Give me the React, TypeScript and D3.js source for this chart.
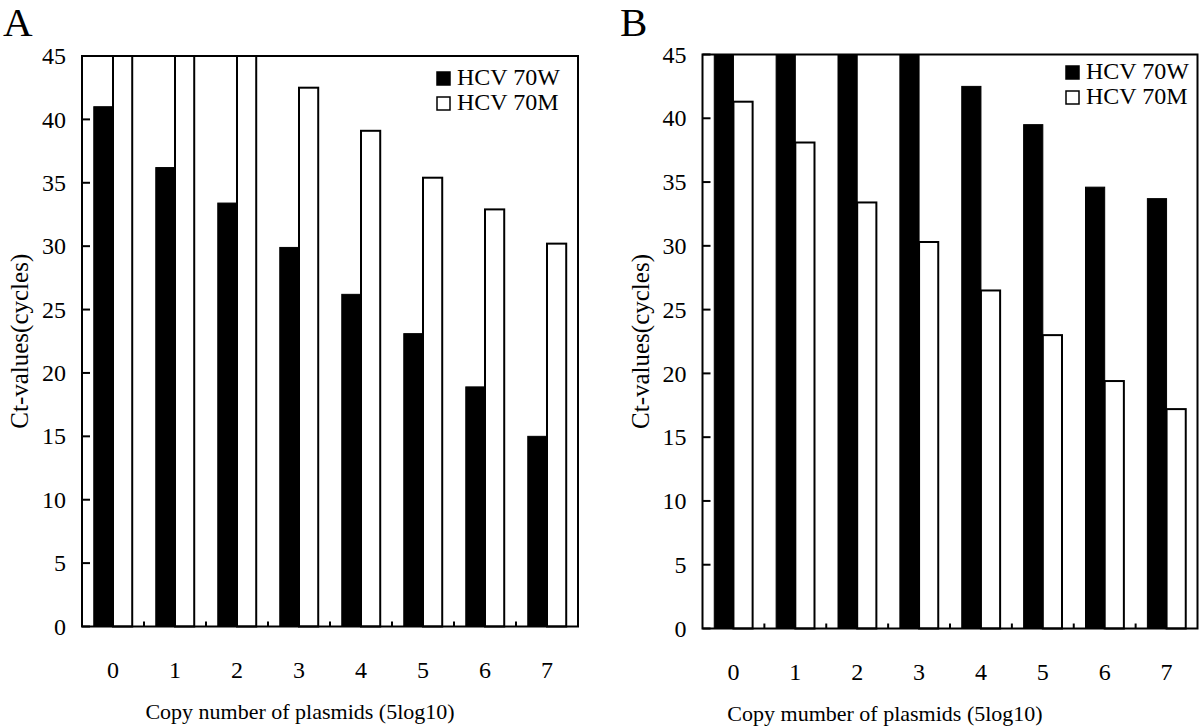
import React from "react";
import * as d3 from "d3";

const categories = ["0", "1", "2", "3", "4", "5", "6", "7"];
const yTicks = [0, 5, 10, 15, 20, 25, 30, 35, 40, 45];
const seriesNames = ["HCV 70W", "HCV 70M"];

const panelA_70W = [41.0, 36.2, 33.4, 29.9, 26.2, 23.1, 18.9, 15.0];
const panelA_70M = [45, 45, 45, 42.5, 39.1, 35.4, 32.9, 30.2];
const panelB_70W = [45, 45, 45, 45, 42.5, 39.5, 34.6, 33.7];
const panelB_70M = [41.3, 38.1, 33.4, 30.3, 26.5, 23.0, 19.4, 17.2];

const FONT = "'Liberation Serif', 'Times New Roman', serif";

type PanelProps = {
  letter: string;
  w: number[];
  m: number[];
  xTitle: string;
  xTitleX: number;
  left: number;
  right: number;
  top: number;
  bottom: number;
  letterX: number;
  legendX: number;
  legendY: number;
};

function Panel(p: PanelProps) {
  const x0 = d3.scaleBand<string>().domain(categories).range([p.left, p.right]).padding(0);
  const step = x0.bandwidth();
  const x1 = d3
    .scaleBand<string>()
    .domain(seriesNames)
    .range([step * 0.19, step * 0.81])
    .padding(0);
  const y = d3.scaleLinear().domain([0, 45]).range([p.bottom, p.top]);
  const bw = x1.bandwidth();
  const cy = (p.top + p.bottom) / 2;
  return (
    <g fontFamily={FONT} fill="#000">
      <text x={p.letterX} y={36} fontSize={41}>{p.letter}</text>
      {categories.map((c, i) => (
        <g key={c}>
          <rect
            x={(x0(c) as number) + (x1(seriesNames[0]) as number)}
            y={y(p.w[i])}
            width={bw}
            height={y(0) - y(p.w[i])}
            fill="#000"
            stroke="#000"
            strokeWidth={1}
          />
          <rect
            x={(x0(c) as number) + (x1(seriesNames[1]) as number)}
            y={y(p.m[i])}
            width={bw}
            height={y(0) - y(p.m[i])}
            fill="#fff"
            stroke="#000"
            strokeWidth={2}
          />
        </g>
      ))}
      <rect
        x={p.left}
        y={p.top}
        width={p.right - p.left}
        height={p.bottom - p.top}
        fill="none"
        stroke="#000"
        strokeWidth={2}
      />
      {yTicks.map((t) => (
        <g key={t}>
          <line x1={p.left} x2={p.left + 8} y1={y(t)} y2={y(t)} stroke="#000" strokeWidth={2} />
          <text x={p.left - 16} y={y(t)} dy="0.34em" textAnchor="end" fontSize={24}>
            {t}
          </text>
        </g>
      ))}
      {categories.slice(1).map((c) => (
        <line
          key={c}
          x1={x0(c) as number}
          x2={x0(c) as number}
          y1={p.bottom}
          y2={p.bottom - 5}
          stroke="#000"
          strokeWidth={2}
        />
      ))}
      {categories.map((c) => (
        <text
          key={c}
          x={(x0(c) as number) + step / 2}
          y={p.bottom + 51}
          textAnchor="middle"
          fontSize={24}
        >
          {c}
        </text>
      ))}
      <text x={p.xTitleX} y={p.bottom + 92} textAnchor="middle" fontSize={22}>
        {p.xTitle}
      </text>
      <text
        transform={`translate(${p.left - 54},${cy}) rotate(-90)`}
        textAnchor="middle"
        fontSize={25}
      >
        Ct-values(cycles)
      </text>
      {seriesNames.map((s, i) => (
        <g key={s} transform={`translate(${p.legendX},${p.legendY + i * 25})`}>
          <rect
            x={0}
            y={-13}
            width={13}
            height={13}
            fill={i === 0 ? "#000" : "#fff"}
            stroke="#000"
            strokeWidth={1.5}
          />
          <text x={20} y={0} fontSize={24}>
            {s}
          </text>
        </g>
      ))}
    </g>
  );
}

export default function App() {
  return (
    <svg
      width={1200}
      height={726}
      style={{ position: "absolute", left: 0, top: 0, background: "#fff" }}
    >
      <rect x={0} y={0} width={1200} height={726} fill="#fff" />
      <Panel
        letter="A"
        w={panelA_70W}
        m={panelA_70M}
        xTitle="Copy number of plasmids (5log10)"
        xTitleX={300}
        left={82}
        right={578}
        top={56}
        bottom={626.5}
        letterX={3}
        legendX={437}
        legendY={85}
      />
      <Panel
        letter="B"
        w={panelB_70W}
        m={panelB_70M}
        xTitle="Copy mumber of plasmids (5log10)"
        xTitleX={885}
        left={702.5}
        right={1197.5}
        top={54.5}
        bottom={628.5}
        letterX={620}
        legendX={1066}
        legendY={79}
      />
    </svg>
  );
}
